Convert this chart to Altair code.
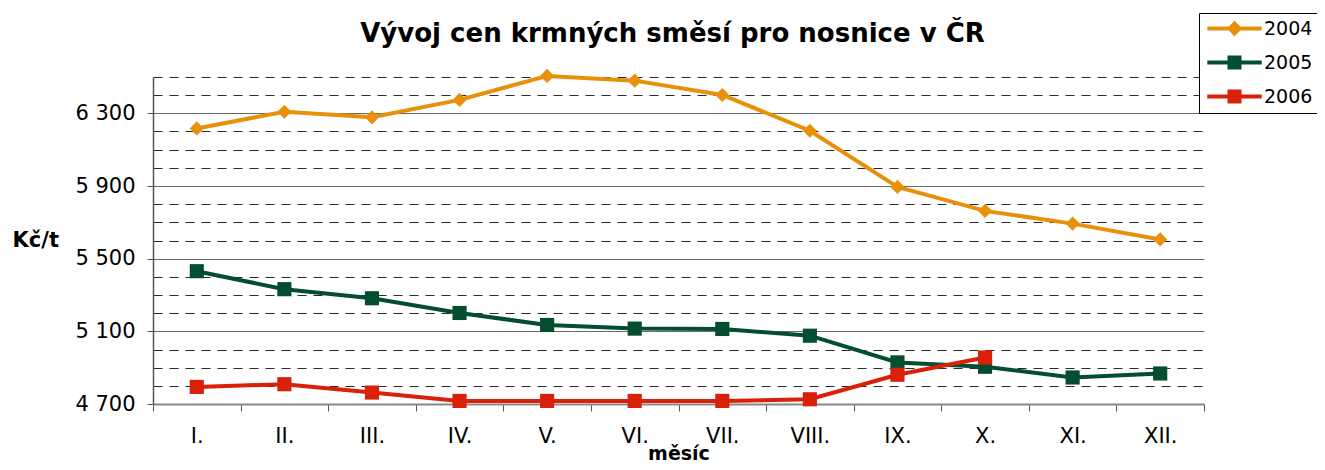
import altair as alt
import pandas as pd

months = ["I.", "II.", "III.", "IV.", "V.", "VI.", "VII.", "VIII.", "IX.", "X.", "XI.", "XII."]
years = ["2004", "2005", "2006"]
v2004 = [6217, 6309, 6278, 6374, 6506, 6480, 6401, 6204, 5895, 5763, 5693, 5606]
v2005 = [5431, 5332, 5282, 5201, 5135, 5115, 5113, 5076, 4929, 4905, 4846, 4868]
v2006 = [4794, 4809, 4763, 4717, 4717, 4717, 4717, 4726, 4861, 4956]
colors = ["#E8900A", "#034D30", "#D92008"]
marker_shapes = ["diamond", "square", "square"]
y_ticks = [4700, 4800, 4900, 5000, 5100, 5200, 5300, 5400, 5500, 5600,
           5700, 5800, 5900, 6000, 6100, 6200, 6300, 6400, 6500]
y_major = [4700, 5100, 5500, 5900, 6300]

title_text = "Vývoj cen krmných směsí pro nosnice v ČR"
x_title = "měsíc"
y_title = "Kč/t"

rows = []
for yr, vals in zip(years, [v2004, v2005, v2006]):
    for m, v in zip(months, vals):
        rows.append({"month": m, "year": yr, "value": v})
df = pd.DataFrame(rows)

major_test = "indexof([" + ",".join(str(v) for v in y_major) + "], datum.value) >= 0"

x_enc = alt.X(
    "month:O",
    sort=months,
    bandPosition=0.5,
    scale=alt.Scale(type="band", domain=months, paddingInner=0, paddingOuter=0),
    axis=alt.Axis(
        title=x_title,
        tickBand="extent",
        labelAngle=0,
        labelFontSize=21,
        labelColor="#000000",
        labelPadding=14,
        tickSize=7,
        tickColor="#555555",
        domainColor="#888888",
        domainWidth=2,
        titleFontSize=19,
        titleFontWeight="bold",
        titleColor="#000000",
        titleBaseline="alphabetic",
        titleY=55,
        grid=False,
    ),
)

y_enc = alt.Y(
    "value:Q",
    scale=alt.Scale(domain=[4700, 6500], nice=False, zero=False),
    axis=alt.Axis(
        title=y_title,
        titleAngle=0,
        titleAlign="left",
        titleBaseline="middle",
        titleX=-141,
        titleY=163,
        titleFontSize=21,
        titleFontWeight="bold",
        titleColor="#000000",
        values=y_ticks,
        labelExpr=major_test + " ? replace(format(datum.value, ','), ',', ' ') : ''",
        labelFontSize=21,
        labelColor="#000000",
        labelPadding=12,
        tickSize=6,
        tickColor="#555555",
        tickOpacity={"condition": {"test": major_test, "value": 1}, "value": 0},
        domainColor="#555555",
        domainWidth=1.5,
        grid=True,
        gridColor={"condition": {"test": major_test, "value": "#6a6a6a"}, "value": "#2a2a2a"},
        gridDash={"condition": {"test": major_test, "value": []}, "value": [9, 7]},
        gridWidth=1,
    ),
)

color_scale = alt.Scale(domain=years, range=colors)

legend_paths = [
    "M-3.4,-0.25H3.4V0.25H-3.4Z M0,-1L0.94,0L0,1L-0.94,0Z",
    "M-3.4,-0.25H3.4V0.25H-3.4Z M-0.875,-0.875H0.875V0.875H-0.875Z",
    "M-3.4,-0.25H3.4V0.25H-3.4Z M-0.875,-0.875H0.875V0.875H-0.875Z",
]

legend = alt.Legend(
    title=None,
    orient="none",
    legendX=1046,
    legendY=-64,
    strokeColor="#000000",
    fillColor="#ffffff",
    padding=6,
    symbolSize=256,
    symbolOffset=20,
    symbolStrokeWidth=0,
    labelOffset=20,
    labelFontSize=19,
    labelColor="#000000",
    rowPadding=14,
)

layers = []
for yr, shp, col in zip(years, marker_shapes, colors):
    base = alt.Chart(df).transform_filter(alt.datum.year == yr)
    line = base.mark_line(strokeWidth=4, color=col).encode(x=x_enc, y=y_enc)
    pts = base.mark_point(shape=shp, filled=True, size=200, opacity=1, strokeWidth=0,
                          color=col).encode(x=x_enc, y=y_enc)
    layers += [line, pts]

legend_layer = alt.Chart(df).transform_filter("false").mark_point(filled=True, opacity=1).encode(
    x=x_enc, y=y_enc,
    color=alt.Color("year:N", scale=color_scale, legend=legend),
    shape=alt.Shape("year:N", scale=alt.Scale(domain=years, range=legend_paths), legend=legend),
)
layers.append(legend_layer)

chart = alt.layer(*layers).properties(
    width=1051,
    height=327,
    autosize=alt.AutoSizeParams(type="none"),
    padding={"left": 145, "top": 69, "right": 113, "bottom": 58},
    title=alt.TitleParams(
        title_text, fontSize=26, fontWeight="bold", anchor="middle", frame="group",
        color="#000000", dx=-6, dy=34, offset=0,
    ),
).configure(font="DejaVu Sans").configure_view(stroke=None)

chart.save("out.html", embed_options={"renderer": "svg", "actions": False})
